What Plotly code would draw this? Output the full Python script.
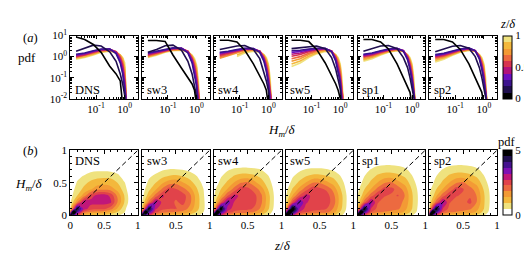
import plotly.graph_objects as go

FONT = "Liberation Serif"

PANELS = ["DNS", "sw3", "sw4", "sw5", "sp1", "sp2"]

# ---------- (a) pdf of H_m/delta, one curve per z/delta level ----------
HM = [0.02, 0.04, 0.08, 0.15, 0.3, 0.5, 0.7, 0.85, 1.0, 1.15, 1.3]
Z_LEVELS = [0.05, 0.15, 0.25, 0.35, 0.45, 0.55, 0.65, 0.75, 0.85, 0.95]

PDF_DNS = [
    [8.5, 6.5, 3.8, 1.6, 0.35, 0.15, 0.07, 0.005, None, None, None],
    [1.8, 2.6, 3.5, 3.2, 1.7, 0.6, 0.15, 0.05, 0.02, 0.005, None],
    [1.3, 1.5, 1.9, 2.3, 2.3, 1.4, 0.5, 0.15, 0.03, 0.005, None],
    [1.2, 1.4, 1.8, 2.2, 2.3, 1.5, 0.6, 0.2, 0.04, 0.005, None],
    [1.1, 1.3, 1.7, 2.1, 2.2, 1.6, 0.75, 0.3, 0.06, 0.005, None],
    [1.0, 1.2, 1.6, 2.0, 2.2, 1.7, 0.9, 0.4, 0.08, 0.005, None],
    [0.95, 1.15, 1.5, 1.9, 2.1, 1.7, 1.0, 0.5, 0.12, 0.005, None],
    [0.9, 1.1, 1.4, 1.8, 2.0, 1.7, 1.1, 0.6, 0.2, 0.006, None],
    [0.85, 1.0, 1.3, 1.7, 1.9, 1.6, 1.2, 0.8, 0.3, 0.007, None],
    [0.75, 0.9, 1.2, 1.6, 1.8, 1.5, 1.2, 0.9, 0.5, 0.008, None],
]
PDF_SW3 = [
    [5.8, 5.8, 5.3, 1.2, 0.28, 0.1, 0.05, 0.025, 0.005, None, None],
    [1.6, 2.2, 3.3, 3.5, 2.0, 0.6, 0.15, 0.05, 0.015, 0.005, None],
    [1.5, 1.8, 2.3, 2.6, 2.5, 1.5, 0.5, 0.15, 0.04, 0.005, None],
    [1.4, 1.7, 2.2, 2.5, 2.5, 1.6, 0.6, 0.2, 0.05, 0.006, None],
    [1.3, 1.6, 2.1, 2.4, 2.5, 1.7, 0.7, 0.25, 0.07, 0.008, None],
    [1.2, 1.5, 2.0, 2.3, 2.4, 1.8, 0.8, 0.35, 0.1, 0.012, 0.005],
    [1.1, 1.4, 1.9, 2.2, 2.3, 1.8, 0.9, 0.45, 0.15, 0.02, 0.005],
    [1.05, 1.3, 1.8, 2.1, 2.2, 1.8, 1.0, 0.55, 0.2, 0.03, 0.005],
    [1.0, 1.25, 1.7, 2.0, 2.1, 1.7, 1.1, 0.65, 0.3, 0.05, 0.005],
    [0.9, 1.15, 1.6, 1.9, 2.0, 1.6, 1.2, 0.8, 0.4, 0.08, 0.005],
]
PDF_SW4 = [
    [6.0, 6.0, 5.0, 2.0, 0.45, 0.12, 0.05, 0.025, 0.005, None, None],
    [2.2, 2.6, 3.2, 3.4, 2.2, 0.8, 0.2, 0.07, 0.025, 0.005, None],
    [1.6, 1.8, 2.2, 2.5, 2.4, 1.6, 0.6, 0.2, 0.05, 0.006, None],
    [1.45, 1.7, 2.1, 2.4, 2.4, 1.7, 0.7, 0.25, 0.07, 0.008, None],
    [1.3, 1.55, 2.0, 2.3, 2.3, 1.8, 0.8, 0.3, 0.09, 0.01, 0.005],
    [1.15, 1.4, 1.85, 2.2, 2.3, 1.8, 0.9, 0.4, 0.12, 0.015, 0.005],
    [1.0, 1.25, 1.7, 2.1, 2.2, 1.8, 1.0, 0.5, 0.18, 0.025, 0.005],
    [0.85, 1.1, 1.55, 1.95, 2.1, 1.8, 1.1, 0.6, 0.25, 0.04, 0.005],
    [None, None, 1.2, 1.7, 2.0, 1.7, 1.2, 0.75, 0.35, 0.06, 0.005],
    [None, None, 1.0, 1.5, 1.8, 1.6, 1.25, 0.9, 0.45, 0.1, 0.005],
]
PDF_SW5 = [
    [6.0, 6.0, 5.2, 2.2, 0.5, 0.13, 0.05, 0.025, 0.012, 0.005, None],
    [2.4, 2.6, 3.0, 3.2, 2.4, 0.9, 0.25, 0.08, 0.03, 0.005, None],
    [1.9, 2.0, 2.3, 2.5, 2.5, 1.7, 0.6, 0.2, 0.06, 0.006, None],
    [1.6, 1.75, 2.1, 2.35, 2.4, 1.8, 0.7, 0.25, 0.08, 0.008, None],
    [1.3, 1.5, 1.9, 2.2, 2.35, 1.8, 0.8, 0.3, 0.1, 0.01, 0.005],
    [1.05, 1.25, 1.7, 2.05, 2.3, 1.85, 0.9, 0.4, 0.13, 0.015, 0.005],
    [0.8, 1.0, 1.45, 1.9, 2.2, 1.85, 1.0, 0.5, 0.2, 0.025, 0.005],
    [0.6, 0.8, 1.25, 1.7, 2.05, 1.8, 1.1, 0.6, 0.27, 0.04, 0.005],
    [0.45, 0.62, 1.05, 1.5, 1.9, 1.7, 1.2, 0.75, 0.35, 0.06, 0.005],
    [0.34, 0.5, 0.9, 1.35, 1.75, 1.6, 1.25, 0.9, 0.45, 0.1, 0.005],
]
PDF_SP1 = [
    [6.5, 6.5, 5.0, 2.3, 0.45, 0.1, 0.04, 0.02, 0.005, None, None],
    [1.8, 2.4, 3.2, 3.4, 2.4, 0.9, 0.3, 0.1, 0.03, 0.008, 0.005],
    [1.3, 1.5, 1.9, 2.3, 2.5, 1.8, 0.7, 0.25, 0.07, 0.01, 0.005],
    [1.2, 1.4, 1.8, 2.2, 2.45, 1.9, 0.8, 0.3, 0.09, 0.012, 0.005],
    [1.1, 1.3, 1.7, 2.1, 2.4, 1.9, 0.9, 0.35, 0.11, 0.015, 0.005],
    [1.0, 1.2, 1.6, 2.0, 2.3, 1.9, 1.0, 0.45, 0.14, 0.02, 0.005],
    [0.9, 1.1, 1.5, 1.9, 2.2, 1.9, 1.05, 0.55, 0.2, 0.03, 0.005],
    [0.8, 1.0, 1.4, 1.8, 2.1, 1.8, 1.1, 0.65, 0.27, 0.045, 0.005],
    [0.7, 0.9, 1.3, 1.7, 2.0, 1.75, 1.2, 0.75, 0.35, 0.06, 0.005],
    [0.6, 0.8, 1.2, 1.6, 1.9, 1.7, 1.25, 0.9, 0.45, 0.1, 0.005],
]
PDF_SP2 = [
    [6.5, 6.5, 5.0, 2.2, 0.45, 0.1, 0.04, 0.02, 0.005, None, None],
    [1.7, 2.3, 3.1, 3.4, 2.5, 1.0, 0.3, 0.1, 0.03, 0.008, 0.005],
    [1.25, 1.45, 1.85, 2.3, 2.6, 1.9, 0.75, 0.25, 0.07, 0.01, 0.005],
    [1.15, 1.35, 1.75, 2.2, 2.5, 1.9, 0.85, 0.3, 0.09, 0.012, 0.005],
    [1.05, 1.25, 1.65, 2.1, 2.4, 1.9, 0.95, 0.37, 0.11, 0.015, 0.005],
    [0.95, 1.15, 1.55, 2.0, 2.35, 1.9, 1.0, 0.45, 0.14, 0.02, 0.005],
    [0.85, 1.05, 1.45, 1.9, 2.25, 1.9, 1.05, 0.55, 0.2, 0.03, 0.005],
    [0.75, 0.95, 1.35, 1.8, 2.15, 1.85, 1.1, 0.65, 0.27, 0.045, 0.005],
    [0.65, 0.85, 1.25, 1.7, 2.05, 1.8, 1.2, 0.75, 0.35, 0.06, 0.005],
    [0.55, 0.75, 1.15, 1.6, 1.95, 1.75, 1.25, 0.9, 0.45, 0.1, 0.005],
]

# ---------- (b) joint pdf of (z/delta, H_m/delta) ----------
ZG = [0, 0.05, 0.1, 0.2, 0.3, 0.4, 0.5, 0.6, 0.7, 0.8, 0.9, 1.0]
HG = [0, 0.05, 0.1, 0.2, 0.3, 0.4, 0.5, 0.6, 0.7, 0.8, 0.9, 1.0]
ZEROS = [0, 0, 0, 0, 0, 0, 0, 0, 0, 0, 0, 0]

JOINT_DNS = [
    [5.5, 4.0, 2.5, 1.2, 0.9, 0.8, 0.8, 0.7, 0.5, 0.3, 0, 0],
    [2.5, 6.0, 3.8, 2.2, 1.8, 1.7, 1.6, 1.3, 0.9, 0.5, 0, 0],
    [1.0, 2.5, 4.6, 3.0, 2.5, 2.4, 2.4, 2.0, 1.3, 0.6, 0, 0],
    [0.4, 1.0, 1.7, 3.2, 2.9, 2.9, 2.9, 2.8, 1.8, 0.9, 0.1, 0],
    [0.2, 0.6, 0.9, 1.6, 2.5, 2.9, 3.0, 2.6, 1.7, 0.9, 0.1, 0],
    [0.1, 0.4, 0.7, 1.0, 1.3, 1.7, 1.7, 1.6, 1.2, 0.7, 0, 0],
    [0, 0.25, 0.5, 0.8, 1.0, 1.1, 1.2, 1.1, 0.9, 0.5, 0, 0],
    [0, 0.1, 0.3, 0.5, 0.7, 0.8, 0.8, 0.8, 0.6, 0.2, 0, 0],
    [0, 0, 0, 0.1, 0.3, 0.35, 0.35, 0.3, 0.2, 0, 0, 0],
    ZEROS, ZEROS, ZEROS,
]
JOINT_SW3 = [
    [5.5, 4.0, 2.6, 1.6, 1.3, 1.2, 1.1, 1.0, 0.9, 0.6, 0.3, 0],
    [2.5, 6.0, 3.9, 2.4, 2.0, 1.9, 1.8, 1.7, 1.4, 0.9, 0.5, 0],
    [1.2, 2.8, 4.8, 2.8, 2.4, 2.3, 2.3, 2.1, 1.7, 1.1, 0.6, 0],
    [0.5, 1.2, 2.0, 3.3, 2.6, 2.5, 2.2, 2.4, 2.0, 1.2, 0.6, 0],
    [0.3, 0.7, 1.2, 2.0, 2.8, 2.5, 2.4, 2.5, 2.0, 1.2, 0.55, 0],
    [0.2, 0.5, 0.8, 1.3, 1.9, 2.5, 2.3, 2.0, 1.6, 1.0, 0.5, 0],
    [0.05, 0.3, 0.6, 0.9, 1.3, 1.6, 1.7, 1.4, 1.1, 0.75, 0.35, 0],
    [0, 0.15, 0.35, 0.6, 0.8, 0.95, 1.0, 0.9, 0.75, 0.5, 0.15, 0],
    [0, 0, 0.1, 0.2, 0.4, 0.5, 0.5, 0.45, 0.35, 0.15, 0, 0],
    ZEROS, ZEROS, ZEROS,
]
JOINT_SW4 = [
    [5.5, 4.2, 2.8, 1.8, 1.4, 1.3, 1.2, 1.1, 0.9, 0.5, 0.1, 0],
    [2.8, 6.0, 4.1, 2.6, 2.2, 2.1, 2.0, 1.8, 1.4, 0.8, 0.2, 0],
    [1.3, 3.0, 5.0, 3.0, 2.5, 2.4, 2.4, 2.2, 1.7, 1.0, 0.3, 0],
    [0.6, 1.4, 2.2, 3.5, 2.7, 2.5, 2.4, 2.4, 1.9, 1.1, 0.35, 0],
    [0.4, 0.8, 1.3, 2.2, 2.9, 2.6, 2.5, 2.4, 1.9, 1.1, 0.35, 0],
    [0.3, 0.6, 0.9, 1.4, 2.0, 2.6, 2.4, 2.1, 1.6, 0.9, 0.3, 0],
    [0.1, 0.35, 0.6, 1.0, 1.4, 1.8, 1.9, 1.5, 1.1, 0.7, 0.2, 0],
    [0, 0.2, 0.4, 0.7, 0.95, 1.1, 1.1, 1.0, 0.8, 0.5, 0.1, 0],
    [0, 0.05, 0.15, 0.4, 0.55, 0.6, 0.6, 0.55, 0.45, 0.2, 0, 0],
    [0, 0, 0, 0.05, 0.1, 0.15, 0.15, 0.1, 0.05, 0, 0, 0],
    ZEROS, ZEROS,
]
JOINT_SW5 = [
    [5.5, 4.5, 3.0, 1.8, 1.4, 1.3, 1.2, 1.1, 1.0, 0.6, 0.2, 0],
    [3.0, 6.0, 4.5, 2.7, 2.3, 2.2, 2.1, 2.0, 1.6, 0.9, 0.3, 0],
    [1.4, 3.4, 5.2, 3.2, 2.5, 2.4, 2.4, 2.3, 1.8, 1.1, 0.4, 0],
    [0.6, 1.5, 2.4, 3.7, 2.8, 2.5, 2.5, 2.5, 2.1, 1.2, 0.45, 0],
    [0.4, 0.9, 1.4, 2.3, 2.9, 2.6, 2.7, 2.5, 2.0, 1.2, 0.45, 0],
    [0.3, 0.6, 0.95, 1.5, 2.1, 2.6, 2.4, 2.2, 1.7, 1.0, 0.35, 0],
    [0.1, 0.35, 0.65, 1.0, 1.4, 1.8, 1.8, 1.5, 1.2, 0.75, 0.25, 0],
    [0, 0.2, 0.4, 0.7, 0.9, 1.05, 1.05, 0.95, 0.8, 0.5, 0.1, 0],
    [0, 0.05, 0.15, 0.35, 0.5, 0.55, 0.55, 0.5, 0.4, 0.2, 0, 0],
    [0, 0, 0, 0.05, 0.1, 0.1, 0.1, 0.1, 0.05, 0, 0, 0],
    ZEROS, ZEROS,
]
JOINT_SP1 = [
    [5.5, 4.0, 2.5, 1.5, 1.2, 1.1, 1.0, 0.9, 0.8, 0.5, 0.15, 0],
    [2.8, 6.0, 4.0, 2.3, 1.9, 1.8, 1.7, 1.6, 1.3, 0.8, 0.3, 0],
    [1.3, 3.0, 4.9, 2.7, 2.1, 2.0, 2.0, 1.9, 1.5, 0.95, 0.35, 0],
    [0.6, 1.3, 2.1, 3.3, 2.3, 2.1, 2.0, 2.0, 1.7, 1.0, 0.4, 0],
    [0.45, 0.8, 1.3, 2.1, 2.7, 2.3, 2.2, 2.3, 1.8, 1.0, 0.4, 0],
    [0.35, 0.6, 0.9, 1.4, 2.0, 2.5, 2.4, 2.1, 1.6, 0.9, 0.35, 0],
    [0.2, 0.4, 0.65, 1.0, 1.4, 1.8, 1.9, 1.5, 1.2, 0.7, 0.25, 0],
    [0.05, 0.25, 0.45, 0.75, 1.0, 1.15, 1.15, 1.05, 0.85, 0.5, 0.15, 0],
    [0, 0.1, 0.25, 0.5, 0.65, 0.7, 0.7, 0.65, 0.55, 0.3, 0, 0],
    [0, 0, 0.05, 0.15, 0.3, 0.35, 0.35, 0.3, 0.2, 0.05, 0, 0],
    ZEROS, ZEROS,
]
JOINT_SP2 = [
    [5.5, 4.0, 2.5, 1.5, 1.2, 1.1, 1.0, 0.9, 0.8, 0.5, 0.15, 0],
    [2.8, 6.0, 4.0, 2.3, 1.9, 1.8, 1.7, 1.6, 1.3, 0.8, 0.3, 0],
    [1.3, 3.0, 4.9, 2.7, 2.1, 2.0, 2.0, 1.9, 1.5, 0.95, 0.35, 0],
    [0.6, 1.3, 2.1, 3.3, 2.3, 2.1, 2.1, 2.4, 1.8, 1.0, 0.4, 0],
    [0.45, 0.8, 1.3, 2.1, 2.7, 2.3, 2.2, 2.2, 1.8, 1.0, 0.4, 0],
    [0.35, 0.6, 0.9, 1.4, 2.0, 2.5, 2.3, 2.0, 1.6, 0.9, 0.35, 0],
    [0.2, 0.4, 0.65, 1.0, 1.4, 1.8, 1.9, 1.5, 1.2, 0.7, 0.25, 0],
    [0.05, 0.25, 0.45, 0.75, 1.0, 1.15, 1.15, 1.05, 0.85, 0.5, 0.15, 0],
    [0, 0.1, 0.25, 0.5, 0.65, 0.7, 0.7, 0.65, 0.55, 0.3, 0, 0],
    [0, 0, 0.05, 0.15, 0.3, 0.35, 0.35, 0.3, 0.2, 0.05, 0, 0],
    ZEROS, ZEROS,
]

PDF_SETS = [PDF_DNS, PDF_SW3, PDF_SW4, PDF_SW5, PDF_SP1, PDF_SP2]
JOINT_SETS = [JOINT_DNS, JOINT_SW3, JOINT_SW4, JOINT_SW5, JOINT_SP1, JOINT_SP2]

# colours
Z_COLORS = ["#000000", "#1f0f4e", "#3c138e", "#6c0fc0", "#b2127c",
            "#d8344f", "#ec6a40", "#f39a35", "#f3b83c", "#efe27e"]
PDF_COLORS = ["#ffffff", "#efe27e", "#f3b83c", "#f39a35", "#ec6a40", "#e1434a",
              "#c0177a", "#7f10b4", "#45128f", "#21104f", "#000000"]


def stepped(colors):
    n = len(colors)
    cs = []
    for i, c in enumerate(colors):
        cs.append([i / n, c])
        cs.append([(i + 1) / n, c])
    return cs


Z_CS = stepped(Z_COLORS)
PDF_CS = stepped(PDF_COLORS)

W, H = 532, 264
PANEL_W = 68.3
PANEL_STEP = 72.65
LEFT0 = 60.0
TOP_Y = (20.7, 87.3)
BOT_Y = (141.8, 210.3)


def xd(i):
    l = LEFT0 + PANEL_STEP * i
    return [l / W, (l + PANEL_W) / W]


def yd(t):
    return [1 - t[1] / H, 1 - t[0] / H]


fig = go.Figure()
layout = dict(width=W, height=H, margin=dict(l=0, r=0, t=0, b=0),
              paper_bgcolor="white", plot_bgcolor="white",
              font=dict(family=FONT, size=11, color="black"), showlegend=False)

axis_common = dict(showline=True, linecolor="black", linewidth=1, mirror="allticks",
                   ticks="inside", ticklen=3.5, tickwidth=0.8, tickcolor="black",
                   showgrid=False, zeroline=False, tickmode="array",
                   tickfont=dict(family=FONT, size=11, color="black"))

minor_log_x = [0.02, 0.03, 0.04, 0.05, 0.06, 0.07, 0.08, 0.09,
               0.2, 0.3, 0.4, 0.5, 0.6, 0.7, 0.8, 0.9, 2]
minor_log_y = []
for d in [0.01, 0.1, 1]:
    for m in range(2, 10):
        minor_log_y.append(round(d * m, 4))

annotations = []
for i, name in enumerate(PANELS):
    ta, ba = i + 1, i + 7
    # top axes
    layout[f"xaxis{ta}"] = dict(axis_common, type="log", domain=xd(i), range=[-1.9, 0.46],
                                anchor=f"y{ta}", tickvals=[0.1, 1],
                                ticktext=["10<sup>-1</sup>", "10<sup>0</sup>"],
                                minor=dict(ticks="inside", ticklen=2, tickcolor="black",
                                           tickmode="array", tickvals=minor_log_x))
    layout[f"yaxis{ta}"] = dict(axis_common, type="log", domain=yd(TOP_Y), range=[-2, 1],
                                anchor=f"x{ta}", tickvals=[0.01, 0.1, 1, 10],
                                ticktext=["10<sup>-2</sup>", "10<sup>-1</sup>", "10<sup>0</sup>", "10<sup>1</sup>"],
                                showticklabels=(i == 0),
                                minor=dict(ticks="inside", ticklen=2, tickcolor="black",
                                           tickmode="array", tickvals=minor_log_y))
    # bottom axes
    layout[f"xaxis{ba}"] = dict(axis_common, domain=xd(i), range=[0, 1], anchor=f"y{ba}",
                                tickvals=[0, 0.5, 1],
                                ticktext=(["0", "0.5", "1"] if i == 0 else [" ", "0.5", "1"]),
                                minor=dict(ticks="inside", ticklen=2, tickcolor="black", dtick=0.1))
    layout[f"yaxis{ba}"] = dict(axis_common, domain=yd(BOT_Y), range=[0, 1], anchor=f"x{ba}",
                                tickvals=[0, 0.5, 1], ticktext=["0", "0.5", "1"],
                                showticklabels=(i == 0),
                                minor=dict(ticks="inside", ticklen=2, tickcolor="black", dtick=0.1))

    # contour
    fig.add_trace(go.Contour(x=ZG, y=HG, z=JOINT_SETS[i], zmin=0, zmax=5,
                             colorscale=PDF_CS, showscale=False,
                             contours=dict(start=5 / 11, end=4.6, size=5 / 11,
                                           coloring="fill", showlines=False),
                             line=dict(width=0, smoothing=1.0),
                             xaxis=f"x{ba}", yaxis=f"y{ba}", hoverinfo="skip"))
    fig.add_trace(go.Scatter(x=[0, 1], y=[0, 1], mode="lines",
                             line=dict(color="black", width=1, dash="5px,3px"),
                             xaxis=f"x{ba}", yaxis=f"y{ba}"))
    # lines
    curves = PDF_SETS[i]
    for k in range(len(Z_LEVELS) - 1, -1, -1):
        fig.add_trace(go.Scatter(x=HM, y=curves[k], mode="lines",
                                 line=dict(color=Z_COLORS[k], width=1.6),
                                 xaxis=f"x{ta}", yaxis=f"y{ta}"))

    l = LEFT0 + PANEL_STEP * i
    annotations.append(dict(text=name, x=(l + 2.5) / W, y=1 - 78.5 / H, xref="paper", yref="paper",
                            xanchor="left", yanchor="middle", showarrow=False,
                            font=dict(family=FONT, size=12.5, color="black")))
    annotations.append(dict(text=name, x=(l + 2.5) / W, y=1 - 153 / H, xref="paper", yref="paper",
                            xanchor="left", yanchor="middle", showarrow=False,
                            font=dict(family=FONT, size=12.5, color="black")))

# colorbars via dummy markers
fig.add_trace(go.Scatter(x=[0.001], y=[0.001], mode="markers", xaxis="x1", yaxis="y1",
                         marker=dict(size=1, color=[0.5], colorscale=Z_CS, cmin=0, cmax=1,
                                     showscale=True,
                                     colorbar=dict(thickness=9, thicknessmode="pixels",
                                                   len=(TOP_Y[1] - TOP_Y[0]) / H, lenmode="fraction",
                                                   x=497.7 / W, xanchor="left", xpad=0,
                                                   y=1 - (TOP_Y[0] + TOP_Y[1]) / 2 / H, yanchor="middle", ypad=0,
                                                   outlinewidth=1, outlinecolor="black",
                                                   tickmode="array",
                                                   tickvals=[0, 0.5, 1], ticktext=["0", "0.5", "1"],
                                                   ticks="", tickfont=dict(family=FONT, size=11)))))
fig.add_trace(go.Scatter(x=[-1], y=[-1], mode="markers", xaxis="x7", yaxis="y7",
                         marker=dict(size=1, color=[2.5], colorscale=PDF_CS, cmin=0, cmax=5,
                                     showscale=True,
                                     colorbar=dict(thickness=9, thicknessmode="pixels",
                                                   len=(BOT_Y[1] - BOT_Y[0]) / H, lenmode="fraction",
                                                   x=497.7 / W, xanchor="left", xpad=0,
                                                   y=1 - (BOT_Y[0] + BOT_Y[1]) / 2 / H, yanchor="middle", ypad=0,
                                                   outlinewidth=1, outlinecolor="black",
                                                   tickmode="array",
                                                   tickvals=[0, 5], ticktext=["0", "5"],
                                                   ticks="", tickfont=dict(family=FONT, size=11)))))


def ann(text, x, y, size=12.5, **kw):
    d = dict(text=text, x=x / W, y=1 - y / H, xref="paper", yref="paper",
             xanchor="center", yanchor="middle", showarrow=False,
             font=dict(family=FONT, size=size, color="black"))
    d.update(kw)
    annotations.append(d)


ann("(<i>a</i>)", 20, 23)
ann("(<i>b</i>)", 20, 143)
ann("pdf", 16, 44, size=13)
ann("<i>H<sub>m</sub></i>/<i>δ</i>", 18, 178, size=13)
ann("<i>H<sub>m</sub></i>/<i>δ</i>", 274, 121, size=13)
ann("<i>z</i>/<i>δ</i>", 275, 242, size=13)
ann("<i>z</i>/<i>δ</i>", 502, 8, size=12.5)
ann("pdf", 502, 133, size=12.5)

layout["annotations"] = annotations
fig.update_layout(**layout)
fig.write_html("out.html")
